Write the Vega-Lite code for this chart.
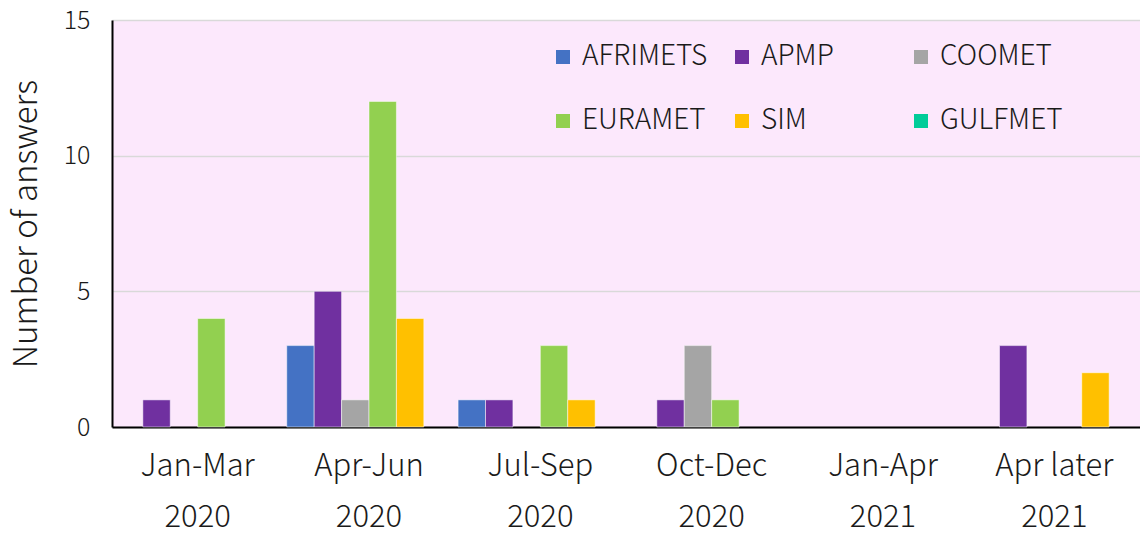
{
  "$schema": "https://vega.github.io/schema/vega-lite/v6.json",
  "width": 1028,
  "height": 407,
  "autosize": {"type": "none"},
  "padding": {"left": 112, "top": 20, "right": 0, "bottom": 108},
  "background": "white",
  "config": {
    "font": "Noto Sans CJK JP",
    "view": {"fill": "#FCE8FC", "stroke": null}
  },
  "data": {
    "values": [
      {"period": "Jan-Mar|2020", "org": "APMP", "n": 1},
      {"period": "Jan-Mar|2020", "org": "EURAMET", "n": 4},
      {"period": "Apr-Jun|2020", "org": "AFRIMETS", "n": 3},
      {"period": "Apr-Jun|2020", "org": "APMP", "n": 5},
      {"period": "Apr-Jun|2020", "org": "COOMET", "n": 1},
      {"period": "Apr-Jun|2020", "org": "EURAMET", "n": 12},
      {"period": "Apr-Jun|2020", "org": "SIM", "n": 4},
      {"period": "Jul-Sep|2020", "org": "AFRIMETS", "n": 1},
      {"period": "Jul-Sep|2020", "org": "APMP", "n": 1},
      {"period": "Jul-Sep|2020", "org": "EURAMET", "n": 3},
      {"period": "Jul-Sep|2020", "org": "SIM", "n": 1},
      {"period": "Oct-Dec|2020", "org": "APMP", "n": 1},
      {"period": "Oct-Dec|2020", "org": "COOMET", "n": 3},
      {"period": "Oct-Dec|2020", "org": "EURAMET", "n": 1},
      {"period": "Apr later|2021", "org": "APMP", "n": 3},
      {"period": "Apr later|2021", "org": "SIM", "n": 2}
    ]
  },
  "mark": {"type": "bar", "stroke": "#ffffff", "strokeOpacity": 0.5, "strokeWidth": 1},
  "encoding": {
    "x": {
      "field": "period",
      "type": "nominal",
      "sort": null,
      "scale": {
        "domain": ["Jan-Mar|2020", "Apr-Jun|2020", "Jul-Sep|2020", "Oct-Dec|2020", "Jan-Apr|2021", "Apr later|2021"],
        "paddingInner": 0.04,
        "paddingOuter": 0.02
      },
      "axis": {
        "title": null,
        "labelAngle": 0,
        "labelExpr": "split(datum.value, '|')",
        "labelFontSize": 31,
        "labelFontWeight": 300,
        "labelLineHeight": 51,
        "labelColor": "#1a1a1a",
        "labelPadding": 24,
        "ticks": false,
        "domainColor": "#000000",
        "domainWidth": 2,
        "grid": false
      }
    },
    "xOffset": {
      "field": "org",
      "type": "nominal",
      "scale": {
        "domain": ["AFRIMETS", "APMP", "COOMET", "EURAMET", "SIM", "GULFMET"],
        "paddingInner": 0,
        "paddingOuter": 0
      }
    },
    "y": {
      "field": "n",
      "type": "quantitative",
      "scale": {"domain": [0, 15], "nice": false},
      "axis": {
        "title": "Number of answers",
        "titleFontSize": 33,
        "titleFontWeight": 300,
        "titleColor": "#1a1a1a",
        "titlePadding": 20,
        "values": [0, 5, 10, 15],
        "labelFontSize": 25,
        "labelFontWeight": 300,
        "labelColor": "#1a1a1a",
        "labelPadding": 22,
        "ticks": false,
        "domainColor": "#000000",
        "domainWidth": 2,
        "gridColor": "#D9D9D9",
        "gridWidth": 1.5
      }
    },
    "color": {
      "field": "org",
      "type": "nominal",
      "scale": {
        "domain": ["AFRIMETS", "APMP", "COOMET", "EURAMET", "SIM", "GULFMET"],
        "range": ["#4472C4", "#7030A0", "#A5A5A5", "#92D050", "#FFC000", "#00CC99"]
      },
      "legend": {
        "title": null,
        "orient": "none",
        "direction": "horizontal",
        "legendX": 437,
        "legendY": 23,
        "columns": 3,
        "gridAlign": "all",
        "columnPadding": 20,
        "rowPadding": 36,
        "symbolType": "square",
        "symbolSize": 196,
        "symbolStrokeWidth": 0,
        "labelFontSize": 28,
        "labelFontWeight": 300,
        "labelColor": "#1a1a1a",
        "labelOffset": 5,
        "labelLimit": 300
      }
    }
  }
}
